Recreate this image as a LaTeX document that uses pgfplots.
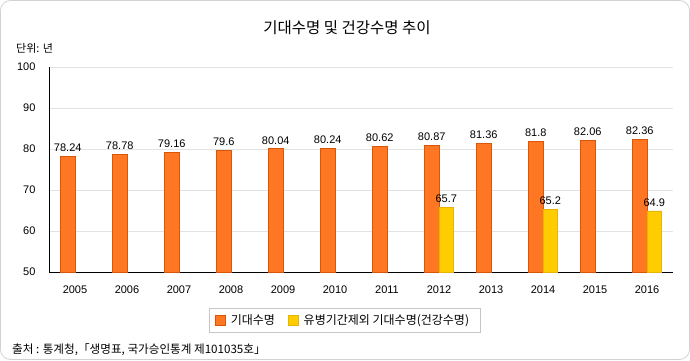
\documentclass[border=0pt]{standalone}
\usepackage{fontspec}
\setmainfont{Liberation Sans}
\newfontfamily\kr{Noto Sans CJK KR}
\usepackage{pgfplots}
\pgfplotsset{compat=1.18}
\definecolor{orfill}{HTML}{FF7722}
\definecolor{ordraw}{HTML}{D95508}
\definecolor{yefill}{HTML}{FFCC00}
\definecolor{yedraw}{HTML}{E8B400}
\definecolor{gridc}{HTML}{E3E3E3}
\begin{document}
\begin{tikzpicture}[x=1pt,y=1pt]
\path[use as bounding box] (0,0) rectangle (690,360);
\draw[gray!35, rounded corners=10pt, line width=0.8pt] (0.5,0.5) rectangle (689.5,359.5);
\begin{axis}[
  at={(49pt,88pt)}, anchor=south west,
  scale only axis, width=624pt, height=205pt,
  ybar=0pt, bar width=14.5pt,
  xmin=-0.5, xmax=11.5, ymin=50, ymax=100,
  xtick={0,1,2,3,4,5,6,7,8,9,10,11},
  xticklabels={2005,2006,2007,2008,2009,2010,2011,2012,2013,2014,2015,2016},
  ytick={50,60,70,80,90,100},
  axis x line*=bottom, axis y line*=left,
  axis line style={black, line width=0.8pt, -},
  major tick length=0pt,
  ymajorgrids, grid style={gridc, line width=0.8pt},
  tick label style={font=\fontsize{11}{13}\selectfont},
  /pgf/number format/assume math mode=true,
  xticklabel style={yshift=-10pt},
  yticklabel style={xshift=-10pt},
  nodes near coords={\pgfmathprintnumber[fixed,precision=2]{\pgfplotspointmeta}},
  every node near coord/.append style={font=\fontsize{11}{13}\selectfont, yshift=1pt, black},
  legend image code/.code={\draw[#1,line width=0.8pt] (0pt,-5pt) rectangle (10pt,5pt);},
  legend style={at={(0.4736,-0.2366)}, anchor=center, legend columns=2,
    draw=gray!45, line width=0.8pt, font=\kr\fontsize{12}{14}\selectfont,
    nodes={inner xsep=5pt, inner ysep=3pt},
    /tikz/every even column/.append style={column sep=8pt},
    inner xsep=6pt, inner ysep=3.5pt},
]
\addplot[draw=ordraw, fill=orfill, line width=0.8pt] coordinates {
  (0,78.24) (1,78.78) (2,79.16) (3,79.6) (4,80.04) (5,80.24)
  (6,80.62) (7,80.87) (8,81.36) (9,81.8) (10,82.06) (11,82.36)};
\addplot[draw=yedraw, fill=yefill, line width=0.8pt] coordinates {
  (7,65.7) (9,65.2) (11,64.9)};
\legend{기대수명, 유병기간제외 기대수명(건강수명)}
\end{axis}
\node[font=\kr\fontsize{15.5}{18}\selectfont] at (347,332.5) {기대수명 및 건강수명 추이};
\node[anchor=west, inner sep=0, font=\kr\fontsize{11}{13}\selectfont] at (16,312) {단위: 년};
\node[anchor=west, inner sep=0, font=\kr\fontsize{11.6}{13}\selectfont] at (12,10) {출처 : 통계청,「생명표, 국가승인통계 제101035호」};
\end{tikzpicture}
\end{document}
